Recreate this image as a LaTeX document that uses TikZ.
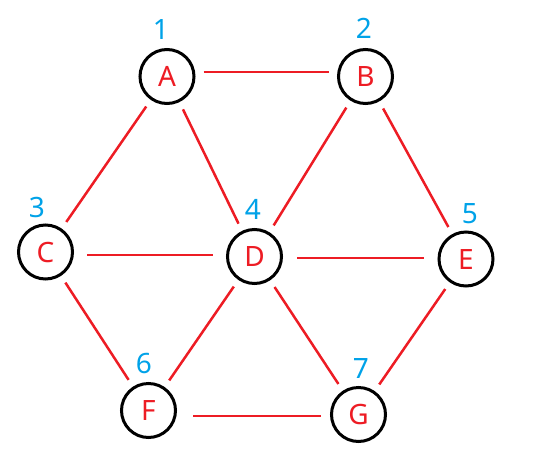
\documentclass[tikz,border=0pt]{standalone}
\usepackage{fontspec}
\setmainfont{Noto Sans}
\definecolor{edgered}{RGB}{237,28,36}
\definecolor{numblue}{RGB}{0,162,232}
\begin{document}
\begin{tikzpicture}[x=1pt,y=-1pt,
  vertex/.style={circle,draw=black,line width=3pt,minimum size=54pt,inner sep=0pt,
    text=edgered,font=\fontsize{28}{28}\selectfont,text height=20pt,text depth=0pt},
  num/.style={text=numblue,font=\fontsize{28}{28}\selectfont,inner sep=0pt,text height=20pt,text depth=0pt},
  edge/.style={draw=edgered,line width=2.5pt,shorten >=8pt,shorten <=8pt}]
\useasboundingbox (0,0) rectangle (538,461);
\node[vertex] (A) at (167,76.5) {A};
\node[vertex] (B) at (365.5,76.5) {B};
\node[vertex] (C) at (45.5,252) {C};
\node[vertex] (D) at (254.5,256.5) {D};
\node[vertex] (E) at (466,259) {E};
\node[vertex] (F) at (148.5,410.5) {F};
\node[vertex] (G) at (358.5,414.5) {G};
\node[num] (n1) at (161,29) {1};
\node[num] (n2) at (364,28) {2};
\node[num] (n3) at (37,207) {3};
\node[num] (n4) at (253,209) {4};
\node[num] (n5) at (470,213) {5};
\node[num] (n6) at (144,363) {6};
\node[num] (n7) at (361,368) {7};
\draw[edge] ([yshift=4.5pt]A.east) -- ([yshift=4.5pt]B.west);
\draw[edge] (A) -- (C);
\draw[edge] (A) -- (D);
\draw[edge] (B) -- (D);
\draw[edge] (B) -- (E);
\draw[edge,shorten <=13pt,shorten >=13pt] ([yshift=-3pt]C.east) -- ([yshift=1.5pt]D.west);
\draw[edge] (C) -- (F);
\draw[edge,shorten <=14pt,shorten >=14pt] ([yshift=-1.5pt]D.east) -- ([yshift=1pt]E.west);
\draw[edge] (D) -- (F);
\draw[edge] (D) -- (G);
\draw[edge] (E) -- (G);
\draw[edge,shorten <=16pt,shorten >=9pt] ([yshift=-5.5pt]F.east) -- ([yshift=-1.5pt]G.west);
\end{tikzpicture}
\end{document}
